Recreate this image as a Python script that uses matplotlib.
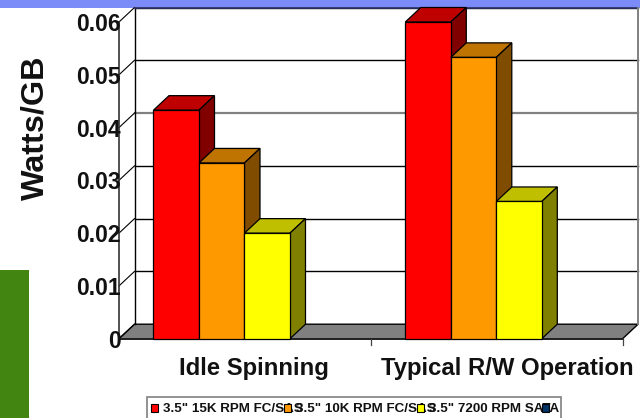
import matplotlib
matplotlib.use("Agg")
import matplotlib.pyplot as plt
from matplotlib.patches import Polygon, Rectangle

plt.rcParams['font.family'] = ['Liberation Sans', 'DejaVu Sans']
plt.rcParams['font.weight'] = 'bold'

W, H = 640, 418

categories = ["Idle Spinning", "Typical R/W Operation"]
series = ['3.5" 15K RPM FC/SAS', '3.5" 10K RPM FC/SAS', '3.5" 7200 RPM SATA']
idle = [0.0433, 0.0333, 0.020]
typical = [0.060, 0.0533, 0.026]
y_ticks = [0, 0.01, 0.02, 0.03, 0.04, 0.05, 0.06]
y_labels = ["0", "0.01", "0.02", "0.03", "0.04", "0.05", "0.06"]

# front, top, side colours of each series
front_cols = ["#FF0000", "#FF9900", "#FFFF00"]
top_cols = ["#BF0000", "#BF7300", "#BFBF00"]
side_cols = ["#800000", "#804D00", "#808000"]
legend_cols = ["#FF0000", "#FF9900", "#FFFF00", "#003366"]

fig = plt.figure(figsize=(W / 100, H / 100), dpi=100)

# page decoration, in pixels
bg = fig.add_axes([0, 0, 1, 1])
bg.set_xlim(0, W)
bg.set_ylim(H, 0)
bg.axis("off")
bg.add_patch(Rectangle((0, 0), W, 8, fc="#7B8CF8", ec="none"))
bg.add_patch(Rectangle((0, 270), 29, 148, fc="#428510", ec="none"))

# chart axes = front plane of the 3D box
left, right, y0, y6 = 119, 622.6, 338.7, 22
ax = fig.add_axes([left / W, 1 - y0 / H, (right - left) / W, (y0 - y6) / H])
ax.set_xlim(0, 2)
ax.set_ylim(0, 0.06)
ax.axis("off")

dx = 15.5 / ((right - left) / 2)
dy = 14.5 / ((y0 - y6) / 0.06)

# floor
ax.add_patch(Polygon([(0, 0), (2, 0), (2 + dx, dy), (dx, dy)], fc="#808080", ec="black", lw=1,
                     clip_on=False, joinstyle="miter", zorder=1))
# gridlines on back wall and diagonal ticks on the side wall
for t in y_ticks[1:]:
    gray = t == 0.04
    ax.plot([dx, 2 + dx], [t + dy, t + dy], color="#808080" if gray else "black",
            lw=1.6 if gray else 1, clip_on=False, zorder=1)
    ax.plot([0, dx], [t, t + dy], color="black", lw=0.8, clip_on=False, zorder=1)
ax.plot([0, dx], [0, dy], color="black", lw=0.8, clip_on=False, zorder=1)
ax.plot([dx, dx], [dy, 0.06 + dy], color="black", lw=1, clip_on=False, zorder=1)
ax.plot([dx, 2 + dx], [0.06 + dy, 0.06 + dy], color="#30356E", lw=1.2, clip_on=False, zorder=1)
ax.plot([2 + dx, 2 + dx], [dy, 0.06 + dy], color="#808080", lw=1.4, clip_on=False, zorder=1)

# front axis lines and ticks
ax.plot([0, 0], [0, 0.06], color="#333333", lw=1.2, clip_on=False, zorder=2)
ax.plot([0, 2], [0, 0], color="#222222", lw=1.4, clip_on=False, zorder=2)
for c in [1, 2]:
    ax.plot([c, c], [0, -0.0011], color="#444444", lw=0.9, clip_on=False, zorder=2)

# bars
bar_w = 0.1807
start = 0.137
for g, vals in enumerate([idle, typical]):
    for i in range(len(series)):
        x0 = g + start + i * bar_w
        x1 = x0 + bar_w
        v = vals[i]
        z = 3 + i
        ax.add_patch(Polygon([(x0, v), (x1, v), (x1 + dx, v + dy), (x0 + dx, v + dy)],
                             fc=top_cols[i], ec="black", lw=0.9, clip_on=False, zorder=z))
        ax.add_patch(Polygon([(x1, 0), (x1 + dx, dy), (x1 + dx, v + dy), (x1, v)],
                             fc=side_cols[i], ec="black", lw=0.9, clip_on=False, zorder=z))
        ax.bar(x0, v, bar_w, align="edge", color=front_cols[i], edgecolor="black", lw=0.9,
               clip_on=False, zorder=z)

# tick labels
for t, lab in zip(y_ticks, y_labels):
    ax.annotate(lab, (0, t), xytext=(1.5, -1.8), textcoords="offset points", ha="right", va="center",
                fontsize=16.5, color="#111111", annotation_clip=False, zorder=8)
for c, lab in zip([0.535, 1.543], categories):
    ax.annotate(lab, (c, 0), xytext=(0, -13), textcoords="offset points", ha="center", va="top",
                fontsize=17.2, color="#111111", annotation_clip=False)

bg.text(35, 128, "Watts/GB", rotation=90, ha="center", va="center", fontsize=23.3, color="#111111")

# legend, entries overlap like in the original
leg = fig.add_axes([0, 0, 1, 1], zorder=10)
leg.set_xlim(0, W)
leg.set_ylim(H, 0)
leg.axis("off")
leg.add_patch(Rectangle((147, 397), 414, 24, fc="white", ec="#808080", lw=1.2, clip_on=False))
marker_x = [151, 284, 417, 542]
text_x = [163, 296, 429]
for mx, c in zip(marker_x, legend_cols):
    leg.add_patch(Rectangle((mx, 404), 7, 8, fc=c, ec="black", lw=0.8, zorder=5))
for tx, lab in zip(text_x, series):
    leg.text(tx, 408.5, lab, ha="left", va="center", fontsize=9.6, color="#111111", zorder=4)

fig.savefig("out.png", dpi=100)
